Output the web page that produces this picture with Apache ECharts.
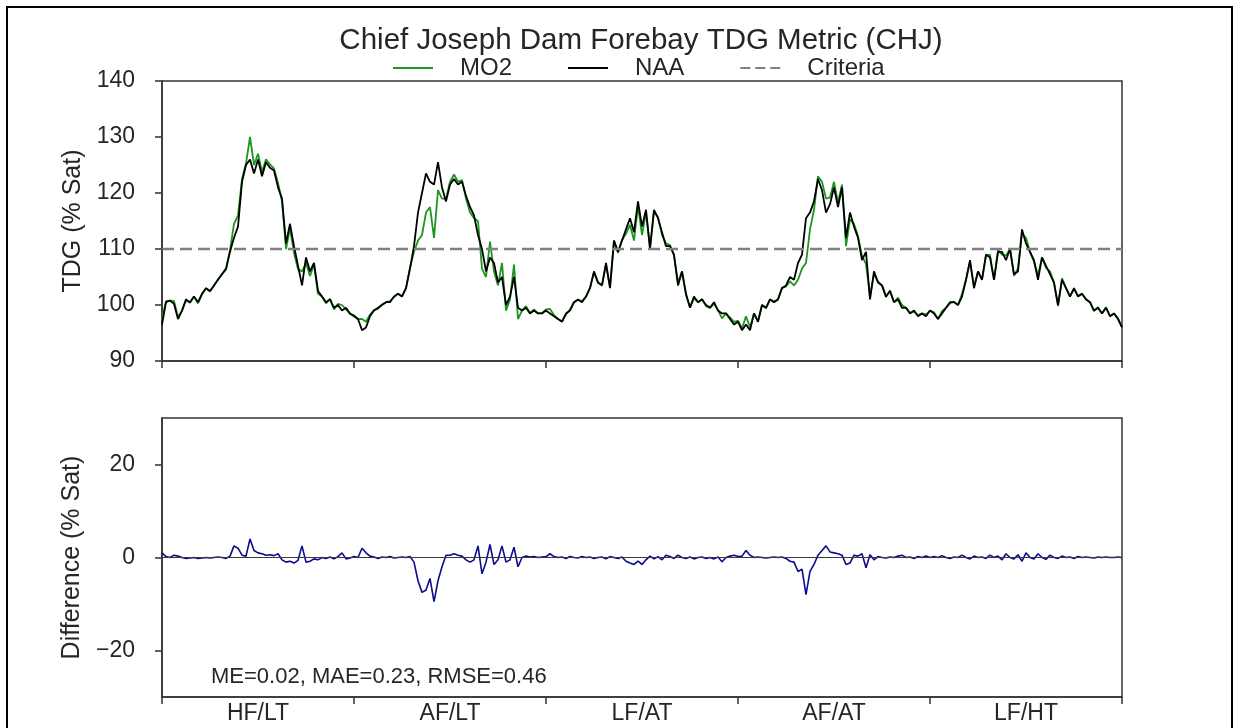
<!DOCTYPE html>
<html><head><meta charset="utf-8">
<script src="https://cdn.jsdelivr.net/npm/echarts@6/dist/echarts.min.js"></script>
<style>html,body{margin:0;padding:0;background:#fff}#c{width:1241px;height:728px}</style>
</head><body><div id="c"></div>
<script>
// ---------- data ----------
const categories = ['HF/LT', 'AF/LT', 'LF/AT', 'AF/AT', 'LF/HT'];
const titleText = 'Chief Joseph Dam Forebay TDG Metric (CHJ)';
const statsText = 'ME=0.02, MAE=0.23, RMSE=0.46';
const criteria = 110;
const yTicksBottom = [-20, 0, 20];

// NAA, % saturation, ~every 4th day
const naaY1 = [96.5, 100.5, 100.8, 100.2, 97.5, 99, 101, 100.5, 101.5, 100.5,
  102, 103, 102.5, 103.5, 104.5, 105.5, 106.5, 109.5, 112, 114,
  122, 125, 126, 123.5, 126, 123, 125.5, 124.5, 124, 121,
  119, 111, 114.5, 110.5, 107, 103.5, 108.5, 106, 107.5, 102.5,
  101.5, 100.5, 101, 99.5, 100, 99, 99.5, 98.5];
const naaY2 = [98, 97.5, 95.5, 96, 98, 99, 99.5, 100, 100.5, 100.5,
  101.5, 102, 101.5, 103, 106.5, 110.5, 116.5, 120, 123.5, 122,
  121.5, 125.5, 121, 118.5, 121.5, 122.5, 121.5, 122, 119.5, 117.5,
  116, 112.5, 110, 106, 108.5, 107.5, 104, 105, 100, 101.5,
  105, 99.5, 99, 99.5, 98.5, 99, 98.5, 98.5];
const naaY3 = [99, 98.5, 98, 97.5, 97, 98.5, 99, 100.5, 101, 100.5,
  101.5, 103, 106, 104, 103.5, 107.5, 103, 111.5, 109.5, 111.5,
  113.5, 115.5, 113, 118.5, 114, 117, 110, 117, 115.5, 113,
  110.5, 110.5, 109, 103.5, 106, 102, 99.5, 101.5, 100.5, 101,
  100, 99.5, 100.5, 99, 98.5, 98.5, 97.5, 96.5];
const naaY4 = [97, 95.5, 96.5, 95.5, 98.5, 97, 100, 99.5, 101, 100.5,
  101, 103, 103.5, 105, 104.5, 107.5, 109, 115.5, 116.5, 118.5,
  122.5, 120.5, 116.5, 118, 121, 117.5, 121, 112, 116.5, 114,
  112, 108, 109.5, 101, 106, 104, 103.5, 101.5, 102.5, 100.5,
  101, 99.5, 99.5, 98.5, 99, 98, 98.5, 98];
const naaY5 = [99, 98.5, 97.5, 98.5, 99.5, 100.5, 100.5, 100, 101.5, 104.5,
  108, 103, 106, 104.5, 109, 108.5, 104.5, 109.5, 109.5, 108,
  110, 105.5, 106, 113.5, 111, 109.5, 108, 104.5, 108.5, 107,
  105.5, 104, 100, 104.5, 103, 101.5, 103, 101.5, 102, 101,
  100.5, 99, 99.5, 98.5, 99.5, 98, 98.5, 97.5, 96];

// Difference MO2 - NAA, % saturation
const diffY1 = [1.0, 0.2, 0, 0.5, 0.3, 0, -0.2, -0.1, 0, -0.2,
  -0.1, 0, -0.1, 0, 0.1, 0, -0.2, 0.3, 2.5, 2.0,
  0.5, 0.3, 4.0, 1.5, 1.0, 0.8, 0.5, 0.6, 0.4, 0.8,
  -0.5, -1.0, -0.8, -1.2, -0.6, 2.5, -1.0, -0.8, -0.3, -0.5,
  0, -0.2, 0.1, -0.3, 0.2, 1.0, -0.3, -0.1];
const diffY2 = [0.2, 0, 2.0, 1.0, 0.3, 0.1, -0.2, 0.1, 0, 0.2,
  -0.1, 0, 0.1, 0, 0.2, -1, -5, -7.5, -7, -4.5,
  -9.5, -5, -2, 0.5, 0.5, 0.8, 0.5, 0.3, -0.5, -1,
  -0.5, 2.5, -3.5, -1, 2.8, -1.5, -0.5, 2.5, -1, -0.5,
  2.2, -2, 0, 0.3, 0.1, 0.2, 0, 0.1];
const diffY3 = [0.2, 0.8, 0.2, 0, 0.1, -0.2, 0.2, 0, -0.1, 0.2,
  0, 0.1, -0.2, 0, 0.1, -0.3, 0.2, 0, -0.2, 0.1,
  -0.8, -1.2, -1.5, -0.8, -1.5, -0.5, 0.3, -0.3, 0.2, -0.5,
  0.5, 0.2, -0.2, 0.5, 0, -0.2, 0.1, -0.3, 0, 0.1,
  -0.2, 0, -0.3, 0.1, -0.9, 0, 0.3, 0.5];
const diffY4 = [0.2, 0.3, 1.5, 0.5, 0, 0.1, 0, -0.1, 0, 0.1,
  0, 0.1, -0.2, -0.8, -1, -3, -2.5, -8, -3, -1.5,
  0.5, 1.5, 2.5, 1.2, 1.0, 0.8, 0.5, -1.5, -1.2, 0.5,
  0.3, 0.8, -2.2, 0.6, -0.5, 0.2, 0, -0.1, 0.1, 0,
  0.3, 0.5, 0, 0.1, -0.2, 0.2, 0, 0.3];
const diffY5 = [0, 0.2, 0, 0.4, 0, -0.2, 0.1, 0, 0.5, 0,
  -0.3, 0.3, 0, 0.1, -0.2, 0.5, 0, 0.3, -0.5, 0.8,
  0, -0.3, 0.6, -0.8, 1.0, 0, -0.3, 0.8, 0, -0.4,
  0.5, 0, -0.2, 0.3, 0, 0.1, -0.2, 0.2, 0, 0.1,
  0, -0.1, 0.1, 0, 0.1, 0, 0, 0.1, 0];

// ---------- build series ----------
const naa = [].concat(naaY1, naaY2, naaY3, naaY4, naaY5);
const diff = [].concat(diffY1, diffY2, diffY3, diffY4, diffY5);
// MO2 is NAA plus the plotted difference (difference = MO2 - NAA)
const mo2 = naa.map((v, i) => +(v + diff[i]).toFixed(2));
const nPts = naa.length - 1;
const naaData = naa.map((v, i) => [i, v]);
const mo2Data = mo2.map((v, i) => [i, v]);
const diffData = diff.map((v, i) => [i, v]);

const FONT = '"Liberation Sans", Arial, sans-serif';
const TXT = '#262626';
const AX = '#333333';
const axLine = {show: true, lineStyle: {color: AX, width: 1.5}};
const axTick = {show: true, inside: false, length: 7, lineStyle: {color: AX, width: 1.5}};
const solidIcon = 'path://M0,0h40v1h-40z';
const dashIcon = 'path://M0,0h10v1h-10z M15,0h10v1h-10z M30,0h10v1h-10z';

const chart = echarts.init(document.getElementById('c'), null, {renderer: 'canvas'});
chart.setOption({
  animation: false,
  backgroundColor: '#ffffff',
  textStyle: {fontFamily: FONT},
  legend: {
    left: 393, top: 56, padding: 0, itemWidth: 40, itemHeight: 2, itemGap: 56,
    symbolKeepAspect: false,
    data: [{name: 'MO2', icon: solidIcon}, {name: 'NAA', icon: solidIcon}, {name: 'Criteria', icon: dashIcon}],
    textStyle: {fontSize: 24, color: TXT, fontFamily: FONT, padding: [0, 0, 0, 22]}
  },
  grid: [
    {left: 162, top: 81, width: 960, height: 280, show: true, borderColor: AX, borderWidth: 1.5, backgroundColor: 'transparent'},
    {left: 162, top: 418, width: 960, height: 279, show: true, borderColor: AX, borderWidth: 1.5, backgroundColor: 'transparent'}
  ],
  xAxis: [
    {type: 'value', gridIndex: 0, min: 0, max: nPts, show: false},
    {type: 'category', gridIndex: 0, data: categories, position: 'bottom', boundaryGap: true,
      axisLine: axLine, axisTick: axTick, axisLabel: {show: false}, splitLine: {show: false}},
    {type: 'value', gridIndex: 1, min: 0, max: nPts, show: false},
    {type: 'category', gridIndex: 1, data: categories, position: 'bottom', boundaryGap: true,
      axisLine: axLine, axisTick: axTick,
      axisLabel: {show: true, fontSize: 23, color: TXT, margin: 5, fontFamily: FONT}, splitLine: {show: false}}
  ],
  yAxis: [
    {type: 'value', gridIndex: 0, min: 90, max: 140, interval: 10,
      name: 'TDG (% Sat)', nameLocation: 'middle', nameGap: 76,
      nameTextStyle: {fontSize: 25, color: TXT, fontFamily: FONT},
      axisLine: axLine, axisTick: axTick,
      axisLabel: {fontSize: 23, color: TXT, margin: 27, fontFamily: FONT}, splitLine: {show: false}},
    {type: 'value', gridIndex: 1, min: -30, max: 30, interval: 10,
      name: 'Difference (% Sat)', nameLocation: 'middle', nameGap: 76,
      nameTextStyle: {fontSize: 25, color: TXT, fontFamily: FONT},
      axisLine: axLine, axisTick: Object.assign({customValues: yTicksBottom}, axTick),
      axisLabel: {customValues: yTicksBottom, fontSize: 23, color: TXT, margin: 27, fontFamily: FONT,
        formatter: v => String(v).replace('-', '\u2212')},
      splitLine: {show: false}}
  ],
  series: [
    {name: 'MO2', type: 'line', xAxisIndex: 0, yAxisIndex: 0, data: mo2Data, symbol: 'none', showSymbol: false,
      lineStyle: {color: '#1e961e', width: 1.8}, itemStyle: {color: '#1e961e'}, z: 2},
    {name: 'NAA', type: 'line', xAxisIndex: 0, yAxisIndex: 0, data: naaData, symbol: 'none', showSymbol: false,
      lineStyle: {color: '#000000', width: 1.8}, itemStyle: {color: '#000000'}, z: 3},
    {name: 'Criteria', type: 'line', xAxisIndex: 0, yAxisIndex: 0, data: [[0, criteria], [nPts, criteria]],
      symbol: 'none', showSymbol: false,
      lineStyle: {color: '#808080', width: 2.5, type: [12, 6]}, itemStyle: {color: '#808080'}, z: 4},
    {name: 'Difference', type: 'line', xAxisIndex: 2, yAxisIndex: 1, data: diffData, symbol: 'none', showSymbol: false,
      lineStyle: {color: '#0b0b8f', width: 1.6}, itemStyle: {color: '#0b0b8f'}, z: 2},
    {name: 'zero', type: 'line', xAxisIndex: 2, yAxisIndex: 1, data: [[0, 0], [nPts, 0]], symbol: 'none', showSymbol: false,
      lineStyle: {color: '#3a3a3a', width: 1}, itemStyle: {color: '#3a3a3a'}, z: 3, silent: true}
  ],
  graphic: [
    {type: 'rect', shape: {x: 7, y: 7, width: 1225, height: 760}, style: {fill: 'none', stroke: '#000', lineWidth: 2}, silent: true},
    {type: 'text', x: 641, y: 41, style: {text: titleText, fontSize: 29.5, fontFamily: FONT, fill: TXT, textAlign: 'center', textVerticalAlign: 'middle'}},
    {type: 'text', x: 211, y: 677, style: {text: statsText, fontSize: 22, fontFamily: FONT, fill: TXT, textAlign: 'left', textVerticalAlign: 'middle'}}
  ]
});
</script></body></html>
